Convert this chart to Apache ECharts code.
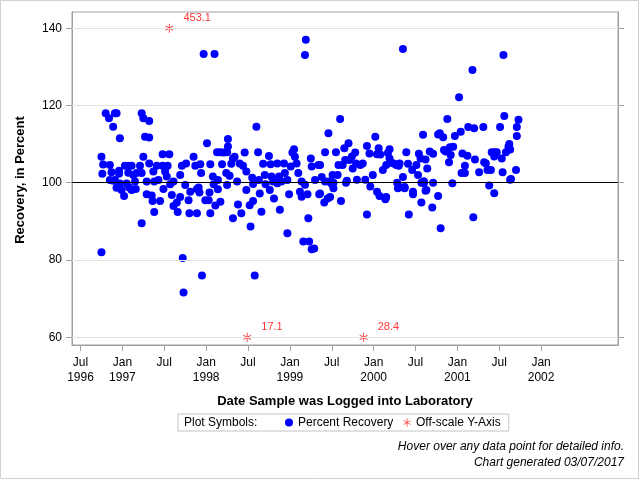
<!DOCTYPE html>
<html><head><meta charset="utf-8">
<script src="https://cdn.jsdelivr.net/npm/echarts@6/dist/echarts.min.js"></script>
<style>html,body{margin:0;padding:0;background:#fff}#c{width:640px;height:480px}</style>
</head><body><div id="c"></div>
<script>
// ---- data (x = decimal year of log date, y = percent recovery) ----
const recovery = [
[1996.75,106.7],[1996.77,104.7],[1996.76,102.3],[1996.75,82.0],[1996.80,118.0],[1996.84,116.7],[1996.89,114.5],[1996.91,118.0],[1996.93,118.0],[1996.97,111.5],[1996.85,104.6],[1996.87,102.7],[1996.85,100.7],[1996.91,100.7],[1996.93,98.7],[1996.96,103.1],[1996.96,102.3],[1997.03,104.4],[1997.07,104.4],[1997.07,102.6],[1997.11,104.4],[1997.13,102.0],[1997.17,102.5],[1997.15,100.3],[1997.21,104.4],[1997.23,102.5],[1997.23,118.0],[1997.25,116.7],[1997.32,116.0],[1997.27,111.9],[1997.32,111.7],[1997.25,106.7],[1997.32,105.0],[1997.29,100.3],[1997.37,102.9],[1997.38,100.3],[1997.41,104.4],[1997.43,100.7],[1997.48,107.4],[1997.48,104.4],[1997.51,102.9],[1997.54,104.4],[1997.53,101.6],[1997.56,107.4],[1997.57,99.6],[1997.61,100.3],[1997.69,102.0],[1997.71,104.4],[1997.76,105.0],[1997.75,99.4],[1997.85,106.7],[1997.87,104.4],[1997.89,98.4],[1997.93,104.8],[1997.94,102.5],[1997.97,133.3],[1998.01,110.2],[1998.05,104.8],[1998.08,101.6],[1998.10,133.3],[1998.14,100.7],[1998.13,107.9],[1998.17,107.9],[1998.19,104.8],[1998.21,107.8],[1998.24,102.5],[1998.25,107.9],[1998.26,109.4],[1998.26,111.3],[1998.28,101.8],[1998.30,104.9],[1998.32,106.3],[1998.37,100.3],[1998.34,106.7],[1998.40,105.0],[1998.44,104.4],[1998.46,107.8],[1998.48,102.9],[1998.55,101.3],[1998.60,114.5],[1998.62,107.9],[1998.63,100.7],[1998.68,104.9],[1998.70,102.0],[1998.75,106.9],[1998.77,104.8],[1998.78,101.6],[1998.80,100.3],[1998.85,105.0],[1998.87,101.6],[1998.90,100.3],[1998.93,105.0],[1998.94,102.5],[1998.97,100.7],[1999.01,104.2],[1999.03,107.8],[1999.05,108.7],[1999.06,106.7],[1999.08,105.0],[1999.10,102.5],[1999.14,100.3],[1999.18,133.1],[1999.19,137.0],[1999.25,106.3],[1999.26,104.2],[1999.30,100.7],[1999.34,104.6],
[1996.99,98.1],[1997.02,96.6],[1997.05,99.8],[1997.11,98.1],[1997.16,98.4],[1997.23,89.5],[1997.29,97.0],[1997.35,96.7],[1997.36,95.3],[1997.38,92.4],[1997.45,95.3],[1997.49,98.4],[1997.59,96.8],[1997.61,94.0],[1997.65,94.9],[1997.66,92.4],[1997.69,96.3],[1997.72,80.5],[1997.73,71.6],[1997.79,95.5],[1997.80,92.1],[1997.81,97.7],[1997.89,92.1],[1997.91,98.8],[1997.92,97.5],[1997.95,76.0],[1997.99,95.5],[1998.03,95.5],[1998.05,92.1],[1998.04,97.5],[1998.11,94.1],[1998.14,98.3],[1998.17,95.1],[1998.25,99.4],[1998.32,90.8],[1998.38,94.4],[1998.42,92.1],[1998.48,98.1],[1998.52,94.2],[1998.53,88.7],[1998.56,95.3],[1998.58,76.0],[1998.64,97.2],[1998.66,92.5],[1998.71,99.6],[1998.76,98.1],[1998.81,95.9],[1998.88,93.0],[1998.97,86.9],[1998.99,97.0],[1999.12,97.7],[1999.14,96.4],[1999.16,84.8],[1999.22,90.8],[1999.23,84.8],[1999.26,82.8],[1999.29,83.0],[1999.21,97.0],[1999.35,97.0],[1996.89,100.5],[1996.97,99.8],[1997.08,98.8],[1998.09,99.6],[1998.56,99.7],[1998.85,99.9],[1999.18,99.5],
[1999.36,97.2],[1999.41,94.9],[1999.45,95.9],[1999.50,99.7],[1999.52,98.6],[1999.61,95.3],[1999.67,100.0],[1999.92,91.8],[1999.96,99.0],[2000.04,97.7],[2000.07,96.6],[2000.14,95.7],[2000.28,100.0],[2000.29,98.6],[2000.37,98.6],[2000.42,91.8],[2000.47,97.7],[2000.57,94.9],[2000.60,99.9],[2000.62,97.9],[2000.70,93.6],[2000.80,88.2],[2000.77,96.6],[2000.94,99.9],[2001.19,91.1],[2001.38,99.3],[2001.44,97.3],[2001.63,100.8],[1999.48,96.3],
[2000.35,134.6],[2001.18,129.2],[2001.55,133.1],[2001.02,122.1],[1999.60,116.5],[1999.46,112.8],[2000.88,116.5],[2001.56,117.3],[2001.73,116.3],[2001.71,114.4],[2001.71,112.1],[2001.51,114.4],[2001.31,114.4],[2001.20,114.1],[2001.13,114.4],[2001.04,113.2],[2000.97,112.1],[2000.79,112.8],[2000.77,112.5],[2000.83,111.8],[2000.59,112.4],[2000.02,111.9],[1999.70,110.2],[1999.65,108.9],[1999.92,109.5],[1999.95,107.6],[2000.06,108.9],[2000.08,107.3],[2000.04,107.4],[2000.19,108.7],[2000.17,107.7],[2000.19,106.3],[2000.21,105.2],[2000.27,104.6],[2000.31,105.0],[2000.30,104.4],[2000.41,104.9],[2000.39,107.9],[2000.51,104.6],[2000.54,107.5],[2000.56,106.3],[2000.62,106.0],[2000.64,103.7],[2000.67,108.1],[2000.71,107.5],[2000.84,108.5],[2000.86,108.1],[2000.91,109.2],[2000.95,109.3],[2000.92,107.2],[2000.90,105.3],[2001.05,102.5],[2001.09,102.5],[2001.09,104.4],[2001.06,107.6],[2001.12,107.0],[2001.21,106.0],[2001.26,102.7],[2001.32,105.3],[2001.34,105.0],[2001.36,103.3],[2001.40,103.3],[2001.41,107.9],[2001.44,106.8],[2001.45,107.9],[2001.47,107.9],[2001.53,106.3],[2001.54,102.7],[2001.58,107.9],[2001.61,109.3],[2001.62,110.0],[2001.63,108.6],[2001.64,101.0],[2001.70,103.3],
[1999.42,107.9],[1999.55,107.9],[1999.63,104.6],[1999.58,104.6],[1999.66,105.9],[1999.71,105.9],[1999.74,106.8],[1999.78,107.8],[1999.79,105.0],[1999.75,103.7],[1999.80,100.8],[1999.84,104.6],[1999.87,105.0],[1999.90,100.8],[1999.99,102.0],[2000.11,103.3],[2000.15,104.6],[2000.24,105.0],[2000.35,101.5],[2000.46,103.3],[2000.53,102.0],[2000.63,98.1],[1999.51,102.0],[1999.57,102.0],[1999.36,104.6],[1999.38,101.5],[1999.42,100.3],[1999.46,100.3],[1999.52,100.0],[1999.68,100.5],[2000.15,96.3],[2000.31,98.9],[2000.37,98.9],[2000.47,97.0],[2000.57,100.0],[2000.60,100.4],[2000.71,100.0]
];
const offDates = [1997.56, 1998.49, 1999.88];
const offValues = [453.1, 17.1, 28.4];
const yTicks = [60, 80, 100, 120, 140];
const refValue = 100;
const xTicks = [1996.5, 1997, 1997.5, 1998, 1998.5, 1999, 1999.5, 2000, 2000.5, 2001, 2001.5, 2002];
const xTickLabels = ['Jul\n1996','Jan\n1997','Jul','Jan\n1998','Jul','Jan\n1999','Jul','Jan\n2000','Jul','Jan\n2001','Jul','Jan\n2002'];
const clipLow = 60, clipHigh = 140;

const FONT = '"Liberation Sans", Arial, sans-serif';
const AXC = '#a0a0a0';
const asterisk = 'path://M9 0L11 0L11 20L9 20Z M1.84 4.134L19.16 14.134L18.16 15.866L0.84 5.866Z M0.84 14.134L18.16 4.134L19.16 5.866L1.84 15.866Z';

const offData = offDates.map((d, i) => ({
  value: [d, Math.min(clipHigh, Math.max(clipLow, offValues[i]))],
  label: { formatter: String(offValues[i]) }
}));

const chart = echarts.init(document.getElementById('c'), null, { renderer: 'canvas' });
chart.setOption({
  animation: false,
  backgroundColor: '#fff',
  textStyle: { fontFamily: FONT },
  grid: { left: 72, top: 12, width: 546, height: 333, show: true, borderColor: AXC, borderWidth: 1 },
  xAxis: {
    type: 'value', min: 1996.398, max: 2002.918,
    axisLine: { show: true, lineStyle: { color: AXC } },
    axisTick: { show: true, length: 6, lineStyle: { color: AXC }, customValues: xTicks },
    axisLabel: {
      customValues: xTicks, color: '#000', fontSize: 12, fontFamily: FONT, lineHeight: 15, margin: 10,
      formatter: v => { const i = xTicks.findIndex(t => Math.abs(t - v) < 1e-6); return i >= 0 ? xTickLabels[i] : ''; }
    },
    splitLine: { show: false }
  },
  yAxis: [{
    type: 'value', min: 58.0, max: 144.2, position: 'left',
    axisLine: { show: true, lineStyle: { color: AXC } },
    axisTick: { show: true, length: 6, lineStyle: { color: AXC }, customValues: yTicks },
    axisLabel: { customValues: yTicks, color: '#000', fontSize: 12, fontFamily: FONT, margin: 10 },
    splitLine: { show: false }
  }, {
    type: 'value', min: 58.0, max: 144.2, position: 'right',
    axisLine: { show: true, lineStyle: { color: AXC } },
    axisTick: { show: true, length: 6, lineStyle: { color: AXC }, customValues: yTicks },
    axisLabel: { show: false },
    splitLine: { show: false }
  }],
  legend: {
    left: 178, top: 414, orient: 'horizontal',
    padding: [2, 8, 2, 107], itemGap: 10, itemWidth: 8, itemHeight: 8,
    borderColor: '#c4c4c4', borderWidth: 1,
    textStyle: { color: '#000', fontSize: 12, fontFamily: FONT, lineHeight: 13 },
    data: [{ name: 'Percent Recovery', icon: 'circle' }, { name: 'Off-scale Y-Axis', icon: asterisk }],
    selectedMode: false
  },
  graphic: [
    { type: 'rect', shape: { x: 0.5, y: 0.5, width: 638, height: 478 }, style: { fill: null, stroke: '#d0d0d0', lineWidth: 1 }, silent: true },
    { type: 'text', x: 20, y: 180, rotation: Math.PI / 2, style: { text: 'Recovery, in Percent', font: 'bold 13px ' + FONT, fill: '#000', align: 'center', verticalAlign: 'middle' } },
    { type: 'text', x: 345, y: 401, style: { text: 'Date Sample was Logged into Laboratory', font: 'bold 13px ' + FONT, fill: '#000', align: 'center', verticalAlign: 'middle' } },
    { type: 'text', x: 184, y: 423, style: { text: 'Plot Symbols:', font: '12px ' + FONT, fill: '#000', align: 'left', verticalAlign: 'middle' } },
    { type: 'text', x: 624, y: 447, style: { text: 'Hover over any data point for detailed info.', font: 'italic 12px ' + FONT, fill: '#000', align: 'right', verticalAlign: 'middle' } },
    { type: 'text', x: 624, y: 463, style: { text: 'Chart generated 03/07/2017', font: 'italic 12px ' + FONT, fill: '#000', align: 'right', verticalAlign: 'middle' } }
  ],
  series: [
    {
      name: 'refs', type: 'line', data: [], z: 1, silent: true,
      markLine: {
        silent: true, symbol: ['none', 'none'], label: { show: false }, animation: false,
        data: yTicks.filter(v => v !== refValue).map(v => ({ yAxis: v, lineStyle: { color: '#e3e3e3', width: 1, type: 'solid' } }))
          .concat([{ yAxis: refValue, lineStyle: { color: '#000', width: 1, type: 'solid' } }])
      }
    },
    {
      name: 'Percent Recovery', type: 'scatter', z: 3, symbol: 'circle', symbolSize: 8,
      itemStyle: { color: '#0000ff', opacity: 1 },
      data: recovery
    },
    {
      name: 'Off-scale Y-Axis', type: 'scatter', z: 4, symbol: asterisk, symbolSize: 9, symbolKeepAspect: true,
      itemStyle: { color: '#ff0000' },
      label: { show: true, position: 'right', distance: 10, offset: [0, -10], color: '#ff0000', fontSize: 11, fontFamily: FONT },
      data: offData
    }
  ]
});
</script></body></html>
